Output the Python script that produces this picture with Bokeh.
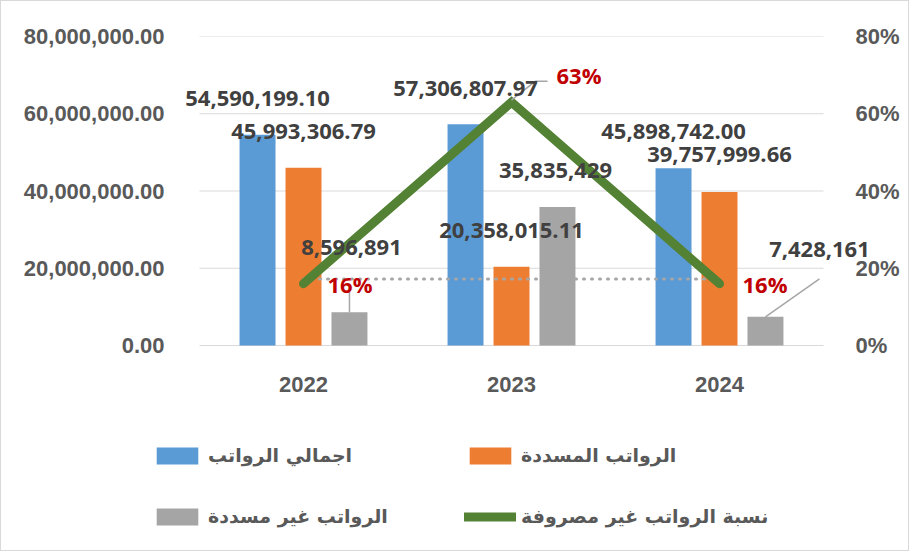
from bokeh.plotting import figure
from bokeh.models import (Range1d, LinearAxis, NumeralTickFormatter, FixedTicker,
                          Legend, LegendItem, ColumnDataSource)
from bokeh.core.properties import value
from bokeh.embed import file_html
from bokeh.resources import INLINE

# ---------------- data ----------------
years = ["2022", "2023", "2024"]
total_salaries = [54590199.10, 57306807.97, 45898742.00]      # اجمالي الرواتب
paid_salaries = [45993306.79, 20358015.11, 39757999.66]       # الرواتب المسددة
unpaid_salaries = [8596891, 35835429, 7428161]                # الرواتب غير مسددة
unspent_ratio = [0.16, 0.63, 0.16]                            # نسبة الرواتب غير مصروفة
dotted_level = [0.172, 0.172]                                 # dotted reference line 2022-2024
left_ticks = [0, 20000000, 40000000, 60000000, 80000000]
right_ticks = [0, 0.2, 0.4, 0.6, 0.8]

names = ["اجمالي الرواتب", "الرواتب المسددة", "الرواتب غير مسددة", "نسبة الرواتب غير مصروفة"]

# ---------------- styles / layout ----------------
BLUE, ORANGE, GRAY, GREEN = "#5B9BD5", "#ED7D31", "#A5A5A5", "#548235"
LABEL_C, AXIS_C, RED, GRID = "#404040", "#595959", "#C00000", "#D9D9D9"
BAR_W, DODGE = 0.173, 0.221
W, H = 909, 551
F_LEFT, F_RIGHT, F_TOP, F_BOTTOM = 146, 876, 35, 540   # frame edges (px)
ZERO_PX = 344                                          # pixel row of value 0
PX_X = 208.0                                           # pixels per category
PLOT_H = ZERO_PX - F_TOP                               # px for full value span
PX_Y = PLOT_H / 80e6
PX_P = PLOT_H / 0.8
CAT0_PX = 302                                          # pixel column of first category
below = (F_BOTTOM - ZERO_PX) / PLOT_H

xs = [i + 1 for i in range(len(years))]

p = figure(width=W, height=H, output_backend="svg", toolbar_location=None,
           x_range=Range1d(1 - (CAT0_PX - F_LEFT) / PX_X, 1 + (F_RIGHT - CAT0_PX) / PX_X),
           y_range=Range1d(-80e6 * below, 80e6),
           min_border_left=F_LEFT, min_border_right=W - F_RIGHT,
           min_border_top=F_TOP, min_border_bottom=H - F_BOTTOM)
p.extra_y_ranges = {"pct": Range1d(-0.8 * below, 0.8)}
p.outline_line_color = None
p.xgrid.visible = False
p.ygrid.visible = False
p.styles = {"border": "1px solid #D9D9D9"}

def style_axis(ax, standoff):
    ax.axis_line_color = None
    ax.major_tick_line_color = None
    ax.minor_tick_line_color = None
    ax.major_tick_out = 0
    ax.major_tick_in = 0
    ax.minor_tick_out = 0
    ax.major_label_standoff = standoff
    ax.major_label_text_font = "Liberation Sans"
    ax.major_label_text_font_style = "bold"
    ax.major_label_text_font_size = "22px"
    ax.major_label_text_color = AXIS_C

# left axis
ya = p.yaxis[0]
ya.ticker = FixedTicker(ticks=left_ticks)
ya.formatter = NumeralTickFormatter(format="0,0.00")
style_axis(ya, -17)

# right axis
ra = LinearAxis(y_range_name="pct", ticker=FixedTicker(ticks=right_ticks),
                formatter=NumeralTickFormatter(format="0%"))
style_axis(ra, -22)
p.add_layout(ra, "right")

# x axis
xa = p.xaxis[0]
xa.ticker = FixedTicker(ticks=xs)
xa.major_label_overrides = {x: y for x, y in zip(xs, years)}
style_axis(xa, -165)

# gridlines across the category span
p.segment(x0=[0.5] * len(left_ticks), x1=[len(xs) + 0.5] * len(left_ticks),
          y0=left_ticks, y1=left_ticks, line_color=GRID, line_width=1.2)

# bars
x_tot = [x - DODGE for x in xs]
x_paid = list(xs)
x_unp = [x + DODGE for x in xs]
r_tot = p.vbar(x=x_tot, top=total_salaries, width=BAR_W, fill_color=BLUE, line_color=None)
r_paid = p.vbar(x=x_paid, top=paid_salaries, width=BAR_W, fill_color=ORANGE, line_color=None)
r_unp = p.vbar(x=x_unp, top=unpaid_salaries, width=BAR_W, fill_color=GRAY, line_color=None)

# dotted line and ratio line
p.line(x=[xs[0], xs[-1]], y=dotted_level, y_range_name="pct", line_color="#A6A6A6",
       line_width=3, line_dash="1 7", line_cap="round")
r_line = p.line(x=xs, y=unspent_ratio, y_range_name="pct", line_color=GREEN,
                line_width=9, line_cap="round", line_join="miter")

# leader lines
lead_c = "#A6A6A6"
i63 = 1
p.multi_line(xs=[[xs[i63], xs[i63] + 24 / PX_X, xs[i63] + 36 / PX_X]],
             ys=[[unspent_ratio[i63] + 2 / PX_P, unspent_ratio[i63] + 21 / PX_P,
                  unspent_ratio[i63] + 21 / PX_P]],
             y_range_name="pct", line_color=lead_c, line_width=1.5)
p.segment(x0=[x_unp[0], x_unp[2]], y0=[unpaid_salaries[0], unpaid_salaries[2]],
          x1=[x_unp[0], x_unp[2] + 54 / PX_X],
          y1=[unpaid_salaries[0] + 26 / PX_Y, unpaid_salaries[2] + 38 / PX_Y],
          line_color=lead_c, line_width=1.5)

# value labels
lab_x, lab_y, lab_t, lab_dx, lab_dy = [], [], [], [], []
up_tot = [36, 36, 37]
up_paid = [36, 36, 37]
up_unp = [65, 37, 67]
dx_unp = [2, -2, 54]
for i in range(len(years)):
    lab_x += [x_tot[i], x_paid[i], x_unp[i]]
    lab_y += [total_salaries[i], paid_salaries[i], unpaid_salaries[i]]
    lab_t += [f"{total_salaries[i]:,.2f}", f"{paid_salaries[i]:,.2f}", f"{unpaid_salaries[i]:,.0f}"]
    lab_dx += [0, 0, dx_unp[i]]
    lab_dy += [-up_tot[i], -up_paid[i], -up_unp[i]]
src = ColumnDataSource(dict(x=lab_x, y=lab_y, t=lab_t, dx=lab_dx, dy=lab_dy))
p.text(x="x", y="y", text="t", x_offset="dx", y_offset="dy", source=src,
       text_font=value("Open Sans"), text_font_style="bold", text_font_size="22px",
       text_color=LABEL_C, text_align="center", text_baseline="middle")

pct_src = ColumnDataSource(dict(x=xs, y=unspent_ratio,
                                t=[f"{v:.0%}" for v in unspent_ratio],
                                dx=[24, 45, 23], dy=[0, -27, 0]))
p.text(x="x", y="y", text="t", x_offset="dx", y_offset="dy", source=pct_src,
       y_range_name="pct", text_font=value("Open Sans"), text_font_style="bold",
       text_font_size="22px", text_color=RED, text_align="left", text_baseline="middle")

# legends (two columns)
def make_legend(items, loc):
    lg = Legend(items=items, location=loc, orientation="vertical")
    lg.padding = 0
    lg.margin = 0
    lg.border_line_color = None
    lg.background_fill_alpha = 0
    lg.glyph_width = 52
    lg.glyph_height = 21
    lg.label_height = 21
    lg.spacing = 39
    lg.label_standoff = 5
    lg.label_text_font = "DejaVu Sans"
    lg.label_text_font_style = "bold"
    lg.label_text_font_size = "19px"
    lg.label_text_color = AXIS_C
    return lg

leg1 = make_legend([LegendItem(label=names[0], renderers=[r_tot]),
                    LegendItem(label=names[2], renderers=[r_unp])], (4, 14))
leg2 = make_legend([LegendItem(label=names[1], renderers=[r_paid]),
                    LegendItem(label=names[3], renderers=[r_line])], (317, 14))
p.add_layout(leg1, "center")
p.add_layout(leg2, "center")

open("out.html", "w").write(file_html(p, INLINE))
